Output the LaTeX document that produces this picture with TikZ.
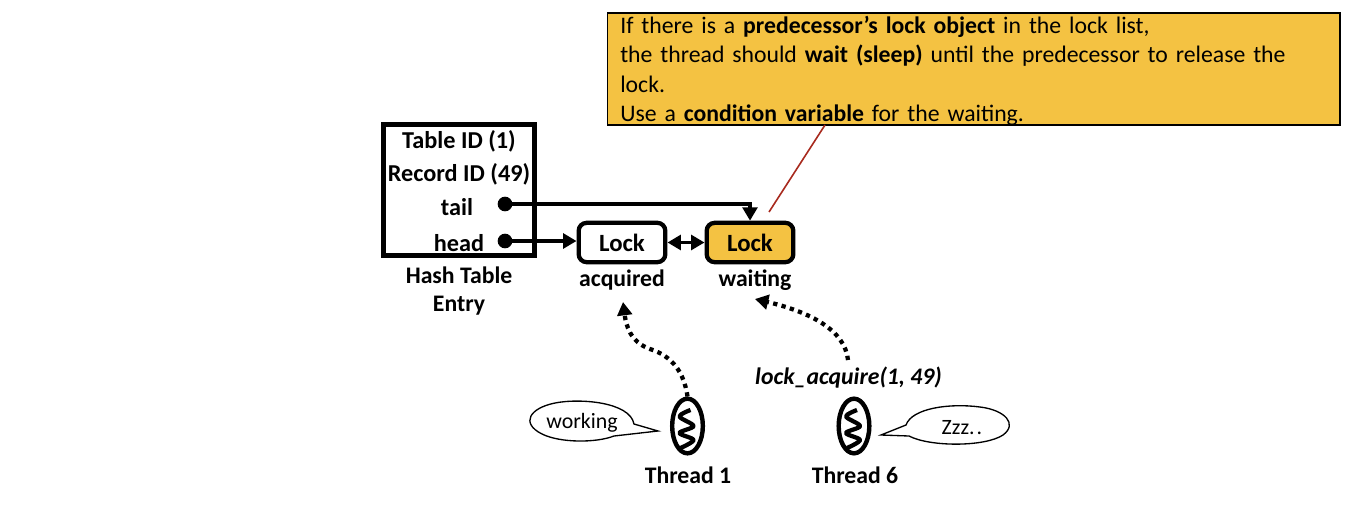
\documentclass[tikz,border=0pt]{standalone}
\usepackage{fontspec}
\setmainfont{Carlito}
\usetikzlibrary{arrows.meta,shapes.geometric,calc}
\definecolor{gold}{HTML}{F4C242}
\definecolor{darkred}{HTML}{A82A1E}
\tikzset{
  x=0.75pt,y=-0.75pt,
  lbl/.style={font=\fontsize{18.2}{20}\selectfont\bfseries,inner sep=0pt,text=black},
  sublbl/.style={font=\fontsize{17.8}{20}\selectfont\bfseries,inner sep=0pt,text=black},
  lockbox/.style={draw=black,line width=3.2pt,rounded corners=6pt,minimum width=65pt,minimum height=29.5pt,inner sep=0pt,font=\fontsize{18.6}{20}\selectfont\bfseries},
  thick arrow/.style={line width=2.7pt,-{Triangle[length=10pt,width=11pt]}},
  dots/.style={line width=3.2pt,dash pattern=on 3.2pt off 3.3pt,-{Triangle[length=10pt,width=11pt]}},
  dot/.style={circle,fill=black,inner sep=0pt,minimum size=11pt},
  thr/.style={ellipse,draw=black,line width=3.3pt,minimum width=23pt,minimum height=41pt,inner sep=0pt},
  spring/.style={line width=3.2pt,line join=round},
  bubble/.style={draw=black,line width=1pt,fill=white,line join=miter},
  bubtext/.style={font=\fontsize{16.4}{18}\selectfont,inner sep=0pt}
}
\begin{document}
\begin{tikzpicture}
\useasboundingbox (0,0) rectangle (1370,504);
% callout
\node[draw=black,line width=1.3pt,fill=gold,minimum width=549.5pt,minimum height=84pt,inner sep=0pt,anchor=north west] (note) at (606.5,12) {};
\node[anchor=north west,inner sep=0pt,text width=535pt,align=left,font=\fontsize{17.8}{22}\selectfont] (notetext) at (620,16) {If there is a \textbf{predecessor’s lock object} in the lock list,\\the thread should \textbf{wait (sleep)} until the predecessor to release the\\lock.\\Use a \textbf{condition variable} for the waiting.};
\coordinate (redstart) at (825,125);
\coordinate (redend) at (769,212);
\draw[darkred,line width=1.2pt] (redstart) -- (redend);
% hash entry
\node[draw=black,line width=3.3pt,minimum width=113.5pt,minimum height=98.5pt,inner sep=0pt] (hash) at (459,190) {};
\node[lbl] (t1) at (459,141) {Table ID (1)};
\node[lbl] (t2) at (459,174) {Record ID (49)};
\node[lbl] (t3) at (457,207) {tail};
\node[lbl] (t4) at (459,243) {head};
\node[dot] (tailp) at (505,204) {};
\node[dot] (headp) at (505,241) {};
\node[sublbl,align=center,font=\fontsize{17.8}{21.5}\selectfont\bfseries] (cap) at (459,291) {Hash Table\\Entry};
% locks
\node[lockbox,fill=white] (l1) at (622,242.5) {Lock};
\node[lockbox,fill=gold] (l2) at (750,242.5) {Lock};
\node[sublbl] (acq) at (622,280) {acquired};
\node[sublbl] (wai) at (755,280) {waiting};
\draw[thick arrow] (tailp.center) -| (l2.north);
\draw[thick arrow] (headp.center) -- (l1.west |- headp);
\draw[line width=2.7pt,{Triangle[length=10pt,width=11pt]}-{Triangle[length=10pt,width=11pt]}] (l1.east) -- (l2.west);
% threads
\node[thr] (th1) at (687.5,426) {};
\node[thr] (th6) at (854,426) {};
\foreach \c in {th1,th6}{
  \draw[spring] plot[smooth,tension=0.55] coordinates {($(\c)+(3,-16)$) ($(\c)+(-8,-9.5)$) ($(\c)+(6,0)$) ($(\c)+(-8,7)$) ($(\c)+(6,14)$) ($(\c)+(-7,22)$)};
}
\node[sublbl] (n1) at (688,475) {Thread 1};
\node[sublbl] (n6) at (855,475) {Thread 6};
\node[sublbl,font=\fontsize{17.8}{20}\selectfont\bfseries\itshape] (call) at (848.5,378) {lock\_acquire(1, 49)};
% dotted
\coordinate (a1) at (623,302);
\coordinate (a2) at (755,299);
\draw[dots] (th1.north) .. controls (684,372) and (672,356) .. (650,349) .. controls (630,342) and (626,325) .. (a1);
\coordinate (c6) at (848,360);
\draw[dots] (c6) .. controls (845,330) and (810,312) .. (a2);
% bubbles
\draw[bubble] (614,436) .. controls (596,443) and (560,443) .. (542,434) .. controls (520,423) and (530,408) .. (555,403) .. controls (580,398) and (630,402) .. (634,424) -- (658,431) -- cycle;
\node[bubtext] (w) at (582,423) {working};
\draw[bubble] (909,436) .. controls (930,447) and (985,447) .. (1003,435) .. controls (1018,424) and (1005,410) .. (980,407) .. controls (950,403) and (912,408) .. (906,425) -- (881,435) -- cycle;
\node[bubtext] (z) at (962,428) {Zzz.\kern1.5pt.};
\end{tikzpicture}
\end{document}
